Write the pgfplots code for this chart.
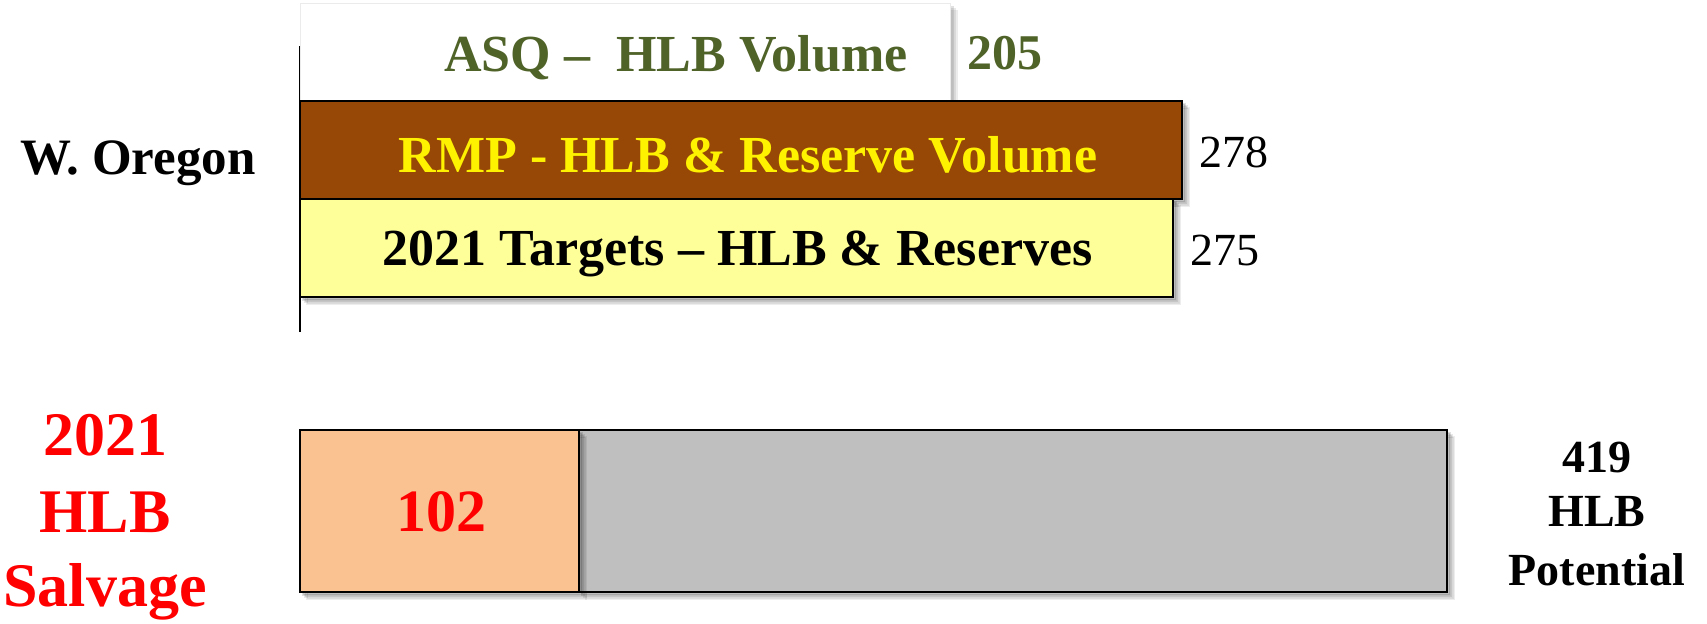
\documentclass[border=0pt]{standalone}
\usepackage{pgfplots}
\pgfplotsset{compat=1.18}
\usepackage{fontspec}
\setmainfont{Liberation Serif}
\usetikzlibrary{shadows}
\definecolor{brownbar}{HTML}{974706}
\definecolor{yellowbar}{HTML}{FFFF99}
\definecolor{olivetxt}{HTML}{4F6228}
\definecolor{orangebar}{HTML}{FAC191}
\definecolor{graybar}{HTML}{BFBFBF}
\tikzset{shad/.style={
  drop shadow={shadow xshift=3.5pt,shadow yshift=-3.5pt,fill=black,opacity=0.07},
  drop shadow={shadow xshift=2.5pt,shadow yshift=-2.5pt,fill=black,opacity=0.09},
  drop shadow={shadow xshift=1.5pt,shadow yshift=-1.5pt,fill=black,opacity=0.12}}}
\begin{document}
\begin{tikzpicture}
\useasboundingbox (0,0) rectangle (853.5pt,311.5pt);
% top axis
\begin{axis}[
  at={(150pt,145.5pt)}, anchor=south west,
  scale only axis, width=476pt, height=143pt,
  xmin=0, xmax=300, ymin=0.148, ymax=3.066,
  hide x axis, axis y line*=left, ytick=\empty,
  y axis line style={-, line width=1.2pt},
  clip=false,
]
\addplot[xbar, bar shift=0pt, bar width=49pt, fill=white, draw=black!8, shad] coordinates {(205,3)};
\addplot[xbar, bar shift=0pt, bar width=49pt, fill=brownbar, draw=black, line width=1pt, shad] coordinates {(278,2)};
\addplot[xbar, bar shift=0pt, bar width=49pt, fill=yellowbar, draw=black, line width=1pt, shad] coordinates {(275,1)};
\end{axis}
% bottom axis
\begin{axis}[
  at={(150pt,15.5pt)}, anchor=south west,
  scale only axis, width=573.5pt, height=81pt,
  xmin=0, xmax=419, ymin=0.5, ymax=1.5,
  axis lines=none, xbar stacked, bar width=81pt, clip=false,
]
\addplot[fill=orangebar, draw=black, line width=1pt, shad] coordinates {(102,1)};
\addplot[fill=graybar, draw=black, line width=1pt, shad] coordinates {(317,1)};
\end{axis}
% text
\node[anchor=base west, font=\bfseries\fontsize{25.5}{30}\selectfont, inner sep=0pt] at (10pt,224.5pt) {W. Oregon};
\node[anchor=base, font=\bfseries\fontsize{26}{30}\selectfont, text=olivetxt, inner sep=0pt] at (338pt,276pt) {ASQ --\ \ HLB Volume};
\node[anchor=base west, font=\bfseries\fontsize{25}{30}\selectfont, text=olivetxt, inner sep=0pt] at (483.5pt,276.5pt) {205};
\node[anchor=base, font=\bfseries\fontsize{26}{30}\selectfont, text=yellow, inner sep=0pt] at (374pt,225.5pt) {RMP - HLB \& Reserve Volume};
\node[anchor=base west, font=\fontsize{23}{28}\selectfont, inner sep=0pt] at (599.5pt,228pt) {278};
\node[anchor=base, font=\bfseries\fontsize{26}{30}\selectfont, inner sep=0pt] at (368.75pt,179pt) {2021 Targets -- HLB \& Reserves};
\node[anchor=base west, font=\fontsize{23}{28}\selectfont, inner sep=0pt] at (595pt,179pt) {275};
\node[anchor=base, font=\bfseries\fontsize{30}{36}\selectfont, text=red, inner sep=0pt] at (220.5pt,46pt) {102};
\node[anchor=base, font=\bfseries\fontsize{31}{38}\selectfont, text=red, inner sep=0pt] at (52.5pt,84pt) {2021};
\node[anchor=base, font=\bfseries\fontsize{31}{38}\selectfont, text=red, inner sep=0pt] at (52.5pt,45.5pt) {HLB};
\node[anchor=base, font=\bfseries\fontsize{31}{38}\selectfont, text=red, inner sep=0pt] at (52.5pt,8.5pt) {Salvage};
\node[anchor=base, font=\bfseries\fontsize{23}{28}\selectfont, inner sep=0pt] at (798.5pt,75.5pt) {419};
\node[anchor=base, font=\bfseries\fontsize{23}{28}\selectfont, inner sep=0pt] at (798.5pt,48.5pt) {HLB};
\node[anchor=base, font=\bfseries\fontsize{23}{28}\selectfont, inner sep=0pt] at (798.5pt,19pt) {Potential};
\end{tikzpicture}
\end{document}
